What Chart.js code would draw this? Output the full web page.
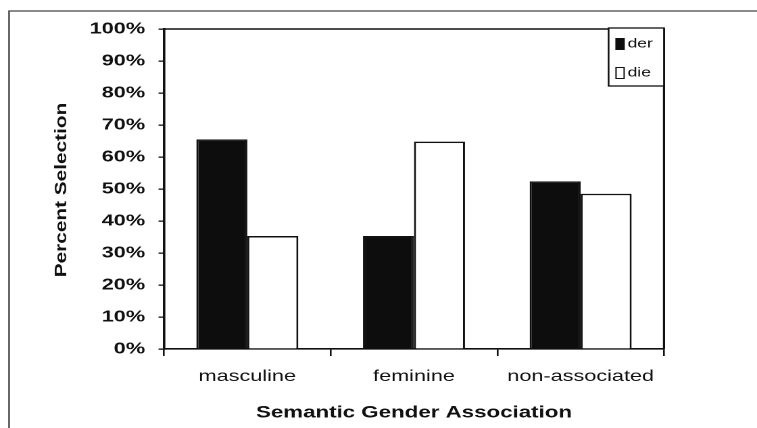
<!DOCTYPE html>
<html lang="en">
  <head>
    <meta charset="UTF-8" />
    <title>Semantic Gender Association</title>
    <style>
      body { margin: 0; background: #fff; overflow: hidden; }
      /* the scanned figure uses very wide glyphs, so the canvas is stretched sideways */
      #wrap {
        position: absolute; left: 0; top: 0;
        width: 560px; height: 428px;
        transform: scaleX(1.35179);
        transform-origin: 0 0;
      }
    </style>
  </head>
  <body>
    <div id="wrap"><canvas id="genderChart" width="560" height="428"></canvas></div>

    <script src="https://cdn.jsdelivr.net/npm/chart.js@4.4.0/dist/chart.umd.min.js"></script>
    <script>
      const categories = ["masculine", "feminine", "non-associated"];
      const seriesNames = ["der", "die"];
      const derValues = [65.5, 35.3, 52.4];
      const dieValues = [35.3, 64.8, 48.5];
      const yTicks = [0, 10, 20, 30, 40, 50, 60, 70, 80, 90, 100];
      const yTitle = "Percent Selection";
      const xTitle = "Semantic Gender Association";

      const FONT = '"Liberation Sans", Arial, Helvetica, sans-serif';
      const INK = "#111";
      const STRETCH = 757 / 560;

      // outer box, plot frame top/right, rotated y title and the small legend box
      const framePlugin = {
        id: "framePlugin",
        beforeDraw(chart) {
          const ctx = chart.ctx;
          ctx.save();
          ctx.fillStyle = "#fff";
          ctx.fillRect(0, 0, chart.width, chart.height);
          ctx.strokeStyle = "#444";
          ctx.lineWidth = 1.2;
          ctx.beginPath();
          ctx.moveTo(6.7, chart.height);
          ctx.lineTo(6.7, 11);
          ctx.lineTo(chart.width, 11);
          ctx.stroke();
          ctx.restore();
        },
        afterDraw(chart) {
          const ctx = chart.ctx;
          const a = chart.chartArea;
          ctx.save();
          ctx.strokeStyle = INK;
          ctx.lineWidth = 1.6;
          ctx.beginPath();
          ctx.moveTo(a.left, a.top);
          ctx.lineTo(a.right, a.top);
          ctx.lineTo(a.right, a.bottom);
          ctx.stroke();

          // y title: wide glyphs along the reading direction, like the scan
          ctx.save();
          ctx.translate(45.9, (a.top + a.bottom) / 2 + 1);
          ctx.rotate(-Math.PI / 2);
          ctx.scale(1.3, 1 / STRETCH);
          ctx.font = "bold 16px " + FONT;
          ctx.fillStyle = INK;
          ctx.textAlign = "center";
          ctx.textBaseline = "middle";
          ctx.fillText(yTitle, 0, 0);
          ctx.restore();

          // legend
          const boxW = 41, boxH = 58;
          const bx = a.right - boxW, by = a.top - 1;
          ctx.fillStyle = "#fff";
          ctx.fillRect(bx, by, boxW, boxH);
          ctx.lineWidth = 1.3;
          ctx.strokeRect(bx, by, boxW, boxH);
          ctx.font = "13px " + FONT;
          ctx.textBaseline = "middle";
          chart.data.datasets.forEach((ds, i) => {
            const cy = by + 16 + i * 29;
            ctx.fillStyle = ds.backgroundColor;
            ctx.fillRect(bx + 5.5, cy - 5.5, 6, 11);
            ctx.lineWidth = 1;
            ctx.strokeStyle = INK;
            ctx.strokeRect(bx + 5.5, cy - 5.5, 6, 11);
            ctx.fillStyle = INK;
            ctx.fillText(ds.label, bx + 14, cy);
          });
          ctx.restore();
        },
      };

      const ctx = document.getElementById("genderChart").getContext("2d");

      const genderChart = new Chart(ctx, {
        type: "bar",
        data: {
          labels: categories,
          datasets: [
            {
              label: seriesNames[0],
              data: derValues,
              backgroundColor: "#0d0d0d",
              borderColor: INK,
              borderWidth: 1.5,
            },
            {
              label: seriesNames[1],
              data: dieValues,
              backgroundColor: "#ffffff",
              borderColor: INK,
              borderWidth: 1.5,
            },
          ],
        },
        options: {
          responsive: false,
          animation: false,
          devicePixelRatio: 2,
          categoryPercentage: 0.612,
          barPercentage: 1.0,
          layout: { padding: { top: 29, right: 68.8, left: 0, bottom: 0 } },
          plugins: {
            legend: { display: false },
            tooltip: { enabled: false },
          },
          scales: {
            x: {
              grid: {
                offset: true,
                drawOnChartArea: false,
                drawTicks: true,
                tickLength: 7,
                color: INK,
                lineWidth: 1.3,
              },
              border: { display: true, color: INK, width: 1.6 },
              ticks: {
                color: INK,
                padding: 11,
                font: { family: FONT, size: 16 },
              },
              title: {
                display: true,
                text: xTitle,
                color: INK,
                padding: { top: 0, bottom: 5 },
                font: { family: FONT, size: 16.5, weight: "bold" },
              },
              afterFit: (scale) => {
                scale.height = 79;
              },
            },
            y: {
              min: 0,
              max: 100,
              afterBuildTicks: (scale) => {
                scale.ticks = yTicks.map((v) => ({ value: v }));
              },
              grid: {
                drawOnChartArea: false,
                drawTicks: true,
                tickLength: 4,
                color: INK,
                lineWidth: 1.3,
              },
              border: { display: true, color: INK, width: 1.8 },
              ticks: {
                color: INK,
                padding: 10,
                callback: (v) => v + "%",
                font: { family: FONT, size: 16, weight: "bold" },
              },
              afterFit: (scale) => {
                scale.width = 121.3;
              },
            },
          },
        },
        plugins: [framePlugin],
      });
    </script>
  </body>
</html>
